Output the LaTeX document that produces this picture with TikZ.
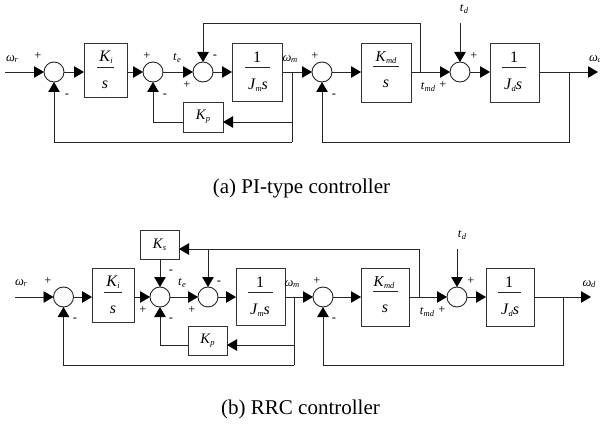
\documentclass[tikz,border=0pt]{standalone}
\usepackage{fontspec}
\setmainfont{Liberation Serif}
\usetikzlibrary{arrows.meta}
\newcommand\sbs[1]{\raisebox{-0.28ex}{\fontsize{8.5}{9}\selectfont\itshape #1}}
\newcommand\wlab[1]{\textit{ω}\kern-0.3pt\sbs{#1}}
\newcommand\vlab[2]{\textit{#1}\kern0.4pt\sbs{#2}}
\tikzset{
  x=1pt,y=-1pt,
  every node/.style={font=\fontsize{12.5}{13}\selectfont\itshape,inner sep=0pt,outer sep=0pt},
  ln/.style={draw=black!85,line width=0.9pt},
  arr/.style={ln,-{Triangle[length=10pt,width=11.5pt,color=black,fill=black]}},
  sumj/.style={circle,draw=black!85,line width=0.9pt,minimum size=20pt},
  blk/.style={rectangle,draw=black!80,line width=0.9pt},
  num/.style={font=\fontsize{16}{17}\selectfont\itshape},
  numsm/.style={font=\fontsize{15}{16}\selectfont\itshape},
  gain/.style={font=\fontsize{14.5}{15}\selectfont\itshape},
  fracbar/.style={ln,line width=0.9pt},
  sgn/.style={font=\fontsize{12.5}{13}\selectfont\upshape},
  captxt/.style={font=\fontsize{21}{23}\selectfont\upshape}
}
\begin{document}
\begin{tikzpicture}
\useasboundingbox (0,0) rectangle (600,428);
% ---- diagram (a)
\node[sumj] (a1) at (54,72) {};
\node[sumj] (a2) at (153,72) {};
\node[sumj] (a3) at (203,72) {};
\node[sumj] (a4) at (322,72) {};
\node[sumj] (a5) at (460,72) {};
\node[blk,minimum width=43pt,minimum height=54pt] (aki) at (105.5,70) {};
\node[blk,minimum width=50pt,minimum height=58pt] (ajm) at (257,72) {};
\node[blk,gain,minimum width=40pt,minimum height=30pt] (akp) at (203,117) {\vlab{K}{p}};
\node[blk,minimum width=50pt,minimum height=59pt] (amd) at (386,72.5) {};
\node[blk,minimum width=49pt,minimum height=59pt] (ajd) at (514.5,72.5) {};
\coordinate (ain) at (5,72);
\coordinate (aout) at (598,72);
\coordinate (ab1) at (292,72);
\coordinate (ab2) at (292,122);
\coordinate (ac1) at (292,142);
\coordinate (ab3) at (420,72);
\coordinate (at1) at (420,23);
\coordinate (ab4) at (569,72);
\coordinate (ac2) at (569,142);
\coordinate (atd) at (460,23);
\draw[arr] (ain) -- (a1);
\draw[arr] (a1) -- (aki.west |- a1);
\draw[arr] (aki.east |- a2) -- (a2);
\draw[arr] (a2) -- (a3);
\draw[arr] (a3) -- (ajm);
\draw[arr] (ajm) -- (a4);
\draw[arr] (a4) -- (amd.west |- a4);
\draw[arr] (amd.east |- a5) -- (a5);
\draw[arr] (a5) -- (ajd.west |- a5);
\draw[arr] (ajd.east |- aout) -- (aout);
\draw[arr] (ab2) -- (akp.east |- ab2);
\draw[arr] (akp.west |- ab2) -| (a2.south);
\draw[ln] (ab1) -- (ac1);
\draw[arr] (ac1) -| (a1.south);
\draw[arr] (ab3) -- (at1) -| (a3.north);
\draw[arr] (ab4) -- (ac2) -| (a4.south);
\draw[arr] (atd) -- (a5.north);
\node[num] (akin) at (106,57) {\vlab{K}{i}};
\node[num] (akid) at (105,85) {s};
\draw[fracbar] (97,67.5) -- (114,67.5);
\node[num] (ajmn) at (257,57) {\upshape 1};
\node[num] (ajmd) at (258,85) {\vlab{J}{m}s};
\draw[fracbar] (245,67.5) -- (270,67.5);
\node[numsm] (amdn) at (386,58) {\vlab{K}{md}};
\node[num] (amdd) at (386,84) {s};
\draw[fracbar] (373,66.5) -- (399,66.5);
\node[num] (ajdn) at (514,57) {\upshape 1};
\node[num] (ajdd) at (513,85) {\vlab{J}{d}s};
\draw[fracbar] (502,67.5) -- (526,67.5);
\node (la1) at (12,59) {\wlab{r}};
\node[sgn] (la2) at (38,56) {+};
\node[sgn] (la3) at (67,96) {-};
\node[sgn] (la4) at (147,56) {+};
\node (la5) at (177,58) {\vlab{t}{e}};
\node[sgn] (la6) at (187,85) {+};
\node[sgn] (la7) at (215,57) {-};
\node[sgn] (la8) at (165,96) {-};
\node (la9) at (290,59) {\wlab{m}};
\node[sgn] (la10) at (315,56) {+};
\node[sgn] (la11) at (334,96) {-};
\node (la12) at (428,87) {\vlab{t}{md}};
\node[sgn] (la13) at (443,85) {+};
\node (la14) at (464,9) {\vlab{t}{d}};
\node[sgn] (la15) at (474,56) {+};
\node[anchor=west] (la16) at (589,59) {\wlab{d}};
\node[captxt] (capa) at (301.5,188) {(a) PI-type controller};
% ---- diagram (b)
\node[sumj] (b1) at (63.5,297) {};
\node[sumj] (b2) at (160,297) {};
\node[sumj] (b3) at (208,297) {};
\node[sumj] (b4) at (323,297) {};
\node[sumj] (b5) at (457,297) {};
\node[blk,minimum width=42pt,minimum height=54pt] (bki) at (113,295) {};
\node[blk,minimum width=49pt,minimum height=57pt] (bjm) at (260.5,296.5) {};
\node[blk,gain,minimum width=39pt,minimum height=29pt] (bks) at (159.5,244.5) {\vlab{K}{s}};
\node[blk,gain,minimum width=39pt,minimum height=29pt] (bkp) at (207.5,340.5) {\vlab{K}{p}};
\node[blk,minimum width=48pt,minimum height=58pt] (bmd) at (385,297) {};
\node[blk,minimum width=48pt,minimum height=58pt] (bjd) at (510,297) {};
\coordinate (bin) at (15,297);
\coordinate (bout) at (591,297);
\coordinate (bb1) at (294,297);
\coordinate (bb2) at (294,345);
\coordinate (bc1) at (294,365);
\coordinate (bb3) at (419,297);
\coordinate (bt1) at (419,249);
\coordinate (bb5) at (208,249);
\coordinate (bb4) at (563,297);
\coordinate (bc2) at (563,365);
\coordinate (btd) at (457,249);
\draw[arr] (bin) -- (b1);
\draw[arr] (b1) -- (bki.west |- b1);
\draw[arr] (bki.east |- b2) -- (b2);
\draw[arr] (b2) -- (b3);
\draw[arr] (b3) -- (bjm.west |- b3);
\draw[arr] (bjm.east |- b4) -- (b4);
\draw[arr] (b4) -- (bmd);
\draw[arr] (bmd) -- (b5);
\draw[arr] (b5) -- (bjd);
\draw[arr] (bjd) -- (bout);
\draw[arr] (bb2) -- (bkp.east |- bb2);
\draw[arr] (bkp.west |- bb2) -| (b2.south);
\draw[ln] (bb1) -- (bc1);
\draw[arr] (bc1) -| (b1.south);
\draw[arr] (bb3) -- (bt1) -- (bks.east |- bt1);
\draw[arr] (bb5) -- (b3.north);
\draw[arr] (bks.south -| b2) -- (b2.north);
\draw[arr] (bb4) -- (bc2) -| (b4.south);
\draw[arr] (btd) -- (b5.north);
\node[num] (bkin) at (113,282) {\vlab{K}{i}};
\node[num] (bkid) at (113,310) {s};
\draw[fracbar] (104,292) -- (122,292);
\node[num] (bjmn) at (260,282) {\upshape 1};
\node[num] (bjmd) at (260,310) {\vlab{J}{m}s};
\draw[fracbar] (248,292) -- (273,292);
\node[numsm] (bmdn) at (384,283) {\vlab{K}{md}};
\node[num] (bmdd) at (385,309) {s};
\draw[fracbar] (373,291.5) -- (398,291.5);
\node[num] (bjdn) at (509,282) {\upshape 1};
\node[num] (bjdd) at (510,310) {\vlab{J}{d}s};
\draw[fracbar] (498,292) -- (521,292);
\node (lb1) at (21,283) {\wlab{r}};
\node[sgn] (lb2) at (48,281) {+};
\node[sgn] (lb3) at (75,320) {-};
\node[sgn] (lb4) at (171,272) {-};
\node (lb5) at (182,283) {\vlab{t}{e}};
\node[sgn] (lb6) at (143,310) {+};
\node[sgn] (lb7) at (171,320) {-};
\node[sgn] (lb8) at (192,310) {+};
\node[sgn] (lb9) at (219,283) {-};
\node (lb10) at (292,284) {\wlab{m}};
\node[sgn] (lb11) at (317,281) {+};
\node[sgn] (lb12) at (334,320) {-};
\node (lb13) at (427,312) {\vlab{t}{md}};
\node[sgn] (lb14) at (442,310) {+};
\node (lb15) at (462,235) {\vlab{t}{d}};
\node[sgn] (lb16) at (471,281) {+};
\node (lb17) at (589,284) {\wlab{d}};
\node[captxt] (capb) at (300.5,409) {(b) RRC controller};
\end{tikzpicture}
\end{document}
